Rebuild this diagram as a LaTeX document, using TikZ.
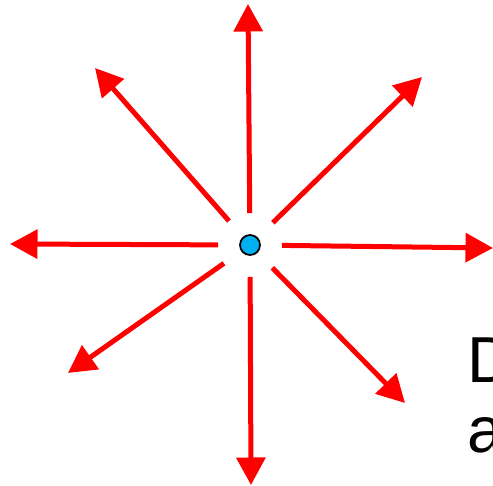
\documentclass[tikz,border=0pt]{standalone}
\usepackage{fontspec}
\setmainfont{Liberation Sans}
\usepackage{xcolor}
\usetikzlibrary{arrows.meta,positioning}
\definecolor{dotblue}{RGB}{0,176,240}

\begin{document}
\begin{tikzpicture}[x=0.02cm, y=-0.02cm, >={Triangle[length=0.55cm,width=0.57cm]},
    ray/.style={->, draw=red, line width=0.1cm, shorten <=0.42cm},
    label/.style={anchor=base west, inner sep=0pt, font=\fontsize{37}{45}\selectfont}]
    \useasboundingbox (0,0) rectangle (493,486);
    \node[circle, draw, line width=1pt, fill=dotblue, minimum size=0.4cm, inner sep=0pt] (dot) at (250,245) {};

    % free ends of the rays
    \coordinate (north) at (248,4);
    \coordinate (northeast) at (422,77);
    \coordinate (east) at (493,248);
    \coordinate (southeast) at (405,403);
    \coordinate (south) at (251,485);
    \coordinate (southwest) at (68,373);
    \coordinate (west) at (10,244);
    \coordinate (northwest) at (95,68);

    \draw[ray] (dot) -- (north);
    \draw[ray] (dot) -- (northeast);
    \draw[ray] (dot) -- (east);
    \draw[ray] (dot) -- (southeast);
    \draw[ray] (dot) -- (south);
    \draw[ray] (dot) -- (southwest);
    \draw[ray] (dot) -- (west);
    \draw[ray] (dot) -- (northwest);

    \node[label] (first) at (467,382) {D};
    \node[label] (second) at (467,452) {a};
\end{tikzpicture}
\end{document}
